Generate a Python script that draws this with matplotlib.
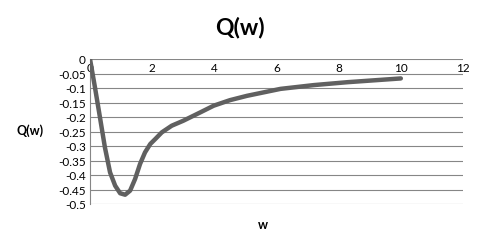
import matplotlib
matplotlib.use("Agg")
import matplotlib.pyplot as plt

w = [0, 0.16, 0.32, 0.48, 0.645, 0.81, 0.97, 1.13, 1.29, 1.45, 1.61, 1.77, 1.94, 2.1, 2.31, 2.63, 3.0, 3.55, 3.98, 4.5, 5.05, 6.13, 7.2, 8.28, 10]
Q = [0, -0.098, -0.201, -0.305, -0.391, -0.437, -0.463, -0.468, -0.454, -0.414, -0.362, -0.322, -0.293, -0.276, -0.253, -0.230, -0.213, -0.184, -0.161, -0.142, -0.127, -0.103, -0.090, -0.080, -0.067]
xticks = [0, 2, 4, 6, 8, 10, 12]
yticks = [0, -0.05, -0.1, -0.15, -0.2, -0.25, -0.3, -0.35, -0.4, -0.45, -0.5]
ylabels = ["0", "-0.05", "-0.1", "-0.15", "-0.2", "-0.25", "-0.3", "-0.35", "-0.4", "-0.45", "-0.5"]

plt.rcParams['font.family'] = ['Lato', 'DejaVu Sans']
fig = plt.figure(figsize=(4.8, 2.53), dpi=100)
ax = fig.add_axes([90/480, 1-205/253, (463-90)/480, (205-60)/253])

grid_c = '#868686'
ax.plot(w, Q, color='#606060', lw=3.2, solid_capstyle='round', solid_joinstyle='round', zorder=3)
ax.set_xlim(0, 12)
ax.set_ylim(-0.5, 0)
ax.set_yticks(yticks)
ax.set_yticklabels(ylabels)
ax.set_xticks(xticks)
ax.set_xticklabels([str(t) for t in xticks])
for y in yticks:
    ax.axhline(y, color=grid_c, lw=0.8, zorder=1)
for s in ['top', 'right', 'bottom']:
    ax.spines[s].set_visible(False)
ax.spines['left'].set_color(grid_c)
ax.spines['left'].set_linewidth(0.8)
ax.xaxis.set_ticks_position('top')
ax.tick_params(axis='x', length=0, pad=-10, labelsize=8.5, colors='#000000')
ax.tick_params(axis='y', length=0, pad=3, labelsize=8.5)

fig.text(240/480, 1-27/253, 'Q(w)', ha='center', va='center', fontsize=16.5, fontweight='bold')
fig.text(30/480, 1-131/253, 'Q(w)', ha='center', va='center', fontsize=9, fontweight='bold')
fig.text(263/480, 1-225/253, 'w', ha='center', va='center', fontsize=9, fontweight='bold')
fig.savefig('out.png', dpi=100)
